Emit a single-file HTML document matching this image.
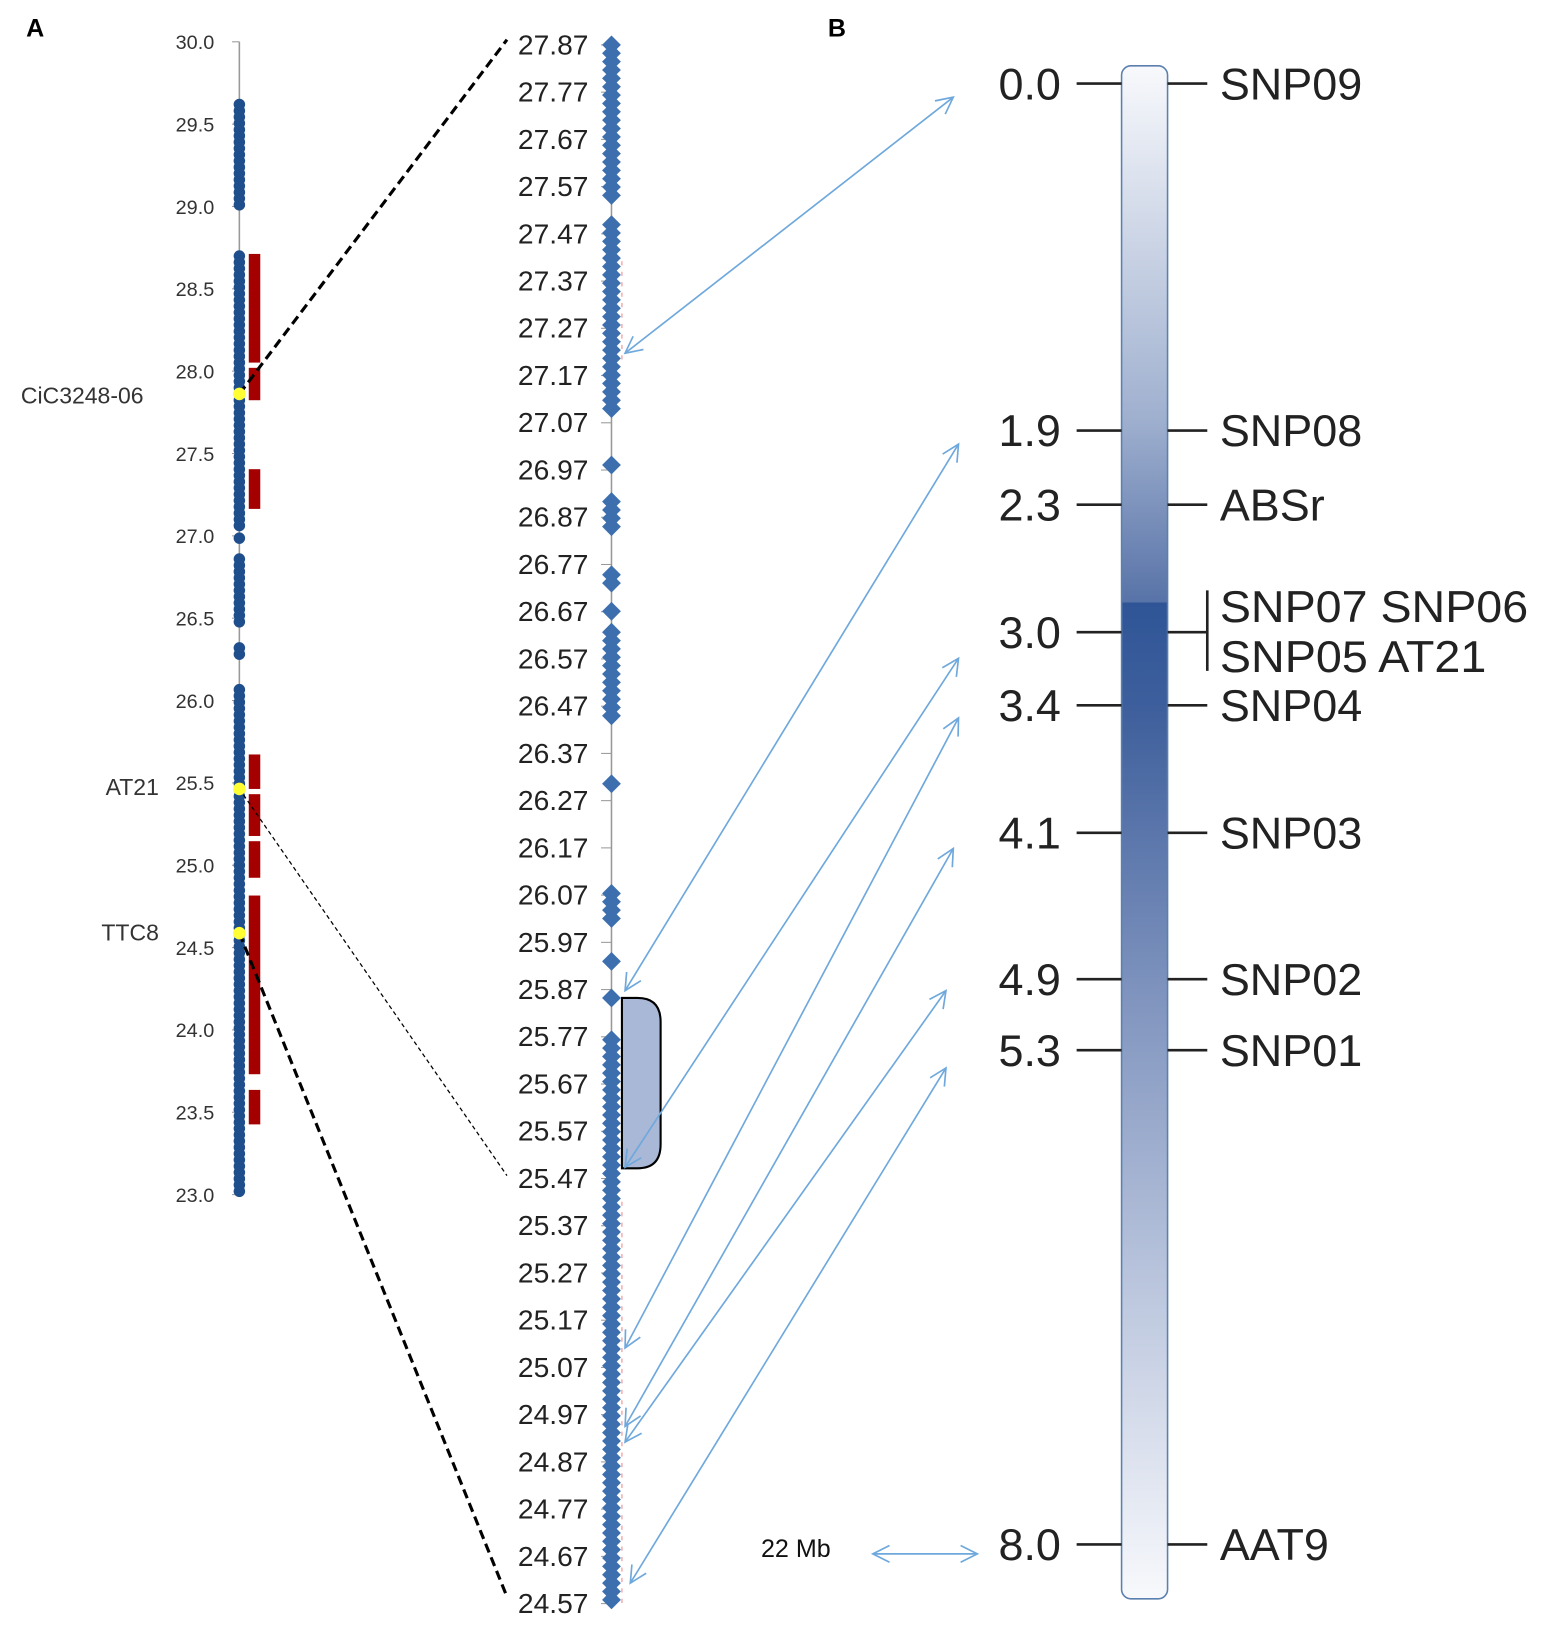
<!DOCTYPE html>
<html><head><meta charset="utf-8"><style>html,body{margin:0;padding:0;background:#fff}svg{display:block}</style></head>
<body>
<svg id="s" width="1547" height="1650" viewBox="0 0 1480 1579" preserveAspectRatio="none" xmlns="http://www.w3.org/2000/svg" font-family="Liberation Sans, sans-serif">
<defs>
<linearGradient id="g" x1="0" y1="63" x2="0" y2="1530" gradientUnits="userSpaceOnUse">
<stop offset="0" stop-color="#f8f9fc"/>
<stop offset="0.23" stop-color="#9fb0cf"/>
<stop offset="0.35" stop-color="#5873a8"/>
<stop offset="0.35" stop-color="#2f5597"/>
<stop offset="0.42" stop-color="#3e5f9c"/>
<stop offset="0.6" stop-color="#7d92bd"/>
<stop offset="0.8" stop-color="#bcc7de"/>
<stop offset="1" stop-color="#f8f9fc"/>
</linearGradient>
<marker id="ah" viewBox="0 0 20 20" refX="18" refY="10" markerWidth="20" markerHeight="20" markerUnits="userSpaceOnUse" orient="auto-start-reverse"><path d="M2 2 L18 10 L2 18" fill="none" stroke="#6fa8dc" stroke-width="1.6"/></marker>
</defs>
<text x="25" y="35" font-size="24" font-weight="bold">A</text>
<text x="792" y="35" font-size="24" font-weight="bold">B</text>
<g id="left"></g>
<g id="mid"></g>
<line x1="229" y1="377" x2="485" y2="38" stroke="#000" stroke-width="3" stroke-dasharray="9,5"/>
<line x1="229" y1="755" x2="485" y2="1125" stroke="#000" stroke-width="1.2" stroke-dasharray="4,3"/>
<line x1="229" y1="893" x2="485" y2="1528" stroke="#000" stroke-width="3" stroke-dasharray="9,5"/>
<circle cx="229" cy="377" r="6" fill="#ffff33"/>
<circle cx="229" cy="755" r="6" fill="#ffff33"/>
<circle cx="229" cy="893" r="6" fill="#ffff33"/>
<g font-size="22" fill="#333">
<text x="20" y="386">CiC3248-06</text>
<text x="152" y="761" text-anchor="end">AT21</text>
<text x="152" y="900" text-anchor="end">TTC8</text>
</g>
<path d="M595 955 H610 Q632 955 632 978 V1095 Q632 1118 610 1118 H595 Z" fill="#a9b8d6" stroke="#000" stroke-width="2"/>
<rect x="1073" y="63" width="44" height="1467" rx="9" fill="url(#g)" stroke="#5b7fae" stroke-width="1.5"/>
<g id="right" font-size="43" fill="#222"></g>
<g stroke="#6fa8dc" stroke-width="1.6" fill="none" marker-start="url(#ah)" marker-end="url(#ah)">
<line x1="598" y1="338" x2="912" y2="93"/>
<line x1="598" y1="948" x2="917" y2="425"/>
<line x1="598" y1="1117" x2="917" y2="630"/>
<line x1="598" y1="1290" x2="917" y2="687"/>
<line x1="598" y1="1365" x2="912" y2="812"/>
<line x1="598" y1="1380" x2="905" y2="948"/>
<line x1="603" y1="1515" x2="905" y2="1022"/>
<line x1="835" y1="1487" x2="935" y2="1487"/>
</g>
<text x="728" y="1490" font-size="24" fill="#111">22 Mb</text>
</svg>
<script>
var NS="http://www.w3.org/2000/svg";
function el(p,t,a,txt){var e=document.createElementNS(NS,t);for(var k in a)e.setAttribute(k,a[k]);if(txt!=null)e.textContent=txt;p.appendChild(e);return e;}
var L=document.getElementById("left");
el(L,"line",{x1:229,y1:40,x2:229,y2:1143,stroke:"#999","stroke-width":1.5});
for(var i=0;i<=14;i++){var y=40+i*78.8;el(L,"line",{x1:222,y1:y,x2:229,y2:y,stroke:"#999"});
el(L,"text",{x:205,y:y+7,"font-size":19,fill:"#333","text-anchor":"end"},(30-i*0.5).toFixed(1));}
var segs=[[100,200],[245,505],[515,520],[535,600],[620,626],[660,1143]];
segs.forEach(function(s){for(var y=s[0];y<=s[1];y+=6)el(L,"circle",{cx:229,cy:y,r:5.5,fill:"#1f4e8c"});});
[[243,347],[352,383],[449,487],[722,755],[760,800],[805,840],[857,1028],[1043,1076]].forEach(function(r){el(L,"rect",{x:238,y:r[0],width:11,height:r[1]-r[0],fill:"#a50000"});});
var M=document.getElementById("mid");
el(M,"line",{x1:585,y1:38,x2:585,y2:1535,stroke:"#999","stroke-width":1.5});
el(M,"line",{x1:595,y1:250,x2:595,y2:345,stroke:"#e88","stroke-width":1,"stroke-dasharray":"4,6"});
el(M,"line",{x1:595,y1:1150,x2:595,y2:1535,stroke:"#e88","stroke-width":1,"stroke-dasharray":"4,6"});
for(var i=0;i<=33;i++){var y=43+i*45.2;el(M,"line",{x1:575,y1:y,x2:585,y2:y,stroke:"#999"});
el(M,"text",{x:563,y:y+9,"font-size":27,fill:"#222","text-anchor":"end"},(27.87-i*0.1).toFixed(2));}
var ms=[[43,190],[215,395],[445,445],[480,505],[550,560],[585,585],[605,690],[750,755],[855,885],[920,920],[955,960],[995,1535]];
ms.forEach(function(s){for(var y=s[0];y<=s[1];y+=8)el(M,"path",{d:"M585 "+(y-9)+" L594 "+y+" L585 "+(y+9)+" L576 "+y+"Z",fill:"#3d6fae"});});
var R=document.getElementById("right");
var mk=[["0.0",80,"SNP09"],["1.9",412,"SNP08"],["2.3",483,"ABSr"],["3.0",605,null],["3.4",675,"SNP04"],["4.1",797,"SNP03"],["4.9",937,"SNP02"],["5.3",1005,"SNP01"],["8.0",1478,"AAT9"]];
mk.forEach(function(m){var y=m[1];
el(R,"text",{x:1015,y:y+15,"text-anchor":"end"},m[0]);
el(R,"line",{x1:1030,y1:y,x2:1073,y2:y,stroke:"#222","stroke-width":2.5});
el(R,"line",{x1:1117,y1:y,x2:1155,y2:y,stroke:"#222","stroke-width":2.5});
if(m[2])el(R,"text",{x:1167,y:y+15},m[2]);});
el(R,"line",{x1:1155,y1:565,x2:1155,y2:642,stroke:"#222","stroke-width":2.5});
el(R,"text",{x:1167,y:595,textLength:295,lengthAdjust:"spacingAndGlyphs"},"SNP07 SNP06");
el(R,"text",{x:1167,y:643,textLength:255,lengthAdjust:"spacingAndGlyphs"},"SNP05 AT21");
</script>
</body></html>
